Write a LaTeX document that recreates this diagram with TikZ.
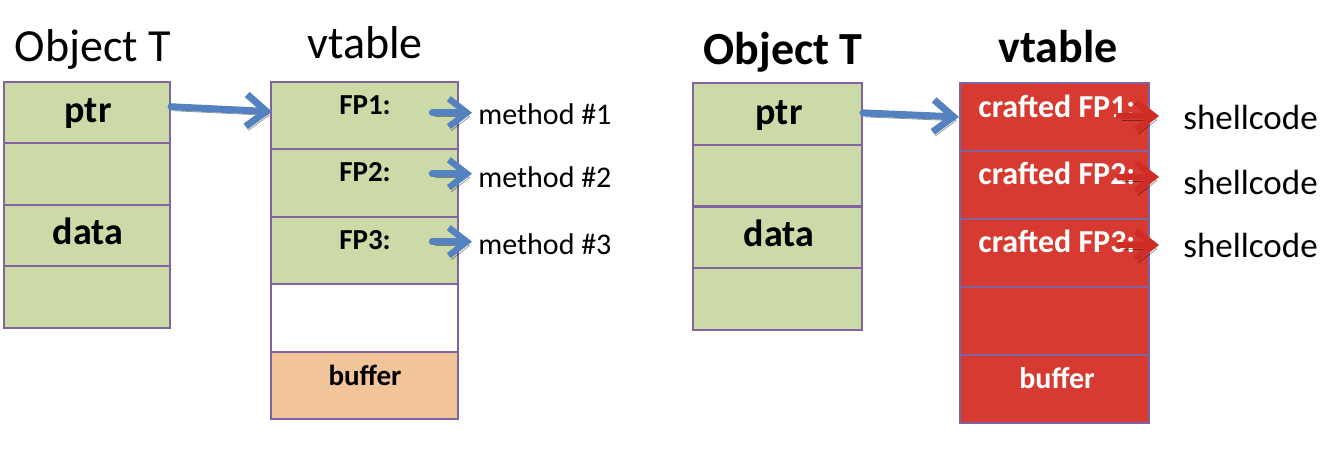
\documentclass[tikz,border=0pt]{standalone}
\usepackage{fontspec}
\setmainfont{Carlito}
\usetikzlibrary{arrows.meta,calc}
\definecolor{cellgreen}{RGB}{204,218,168}
\definecolor{cellorange}{RGB}{242,196,154}
\definecolor{cellred}{RGB}{214,58,48}
\definecolor{cellborder}{RGB}{128,100,162}
\definecolor{arrowblue}{RGB}{84,130,192}
\definecolor{arrowred}{RGB}{206,44,36}
\begin{document}
\begin{tikzpicture}[x=0.5pt,y=-0.5pt,
  cellbox/.style={draw=cellborder, line width=1pt, inner sep=0pt},
  objcell/.style={cellbox, fill=cellgreen, minimum width=83pt, minimum height=30.75pt},
  vtcell/.style={cellbox, minimum width=93.5pt, minimum height=33.7pt},
  robjcell/.style={cellbox, fill=cellgreen, minimum width=84.5pt, minimum height=30.875pt},
  rvtcell/.style={cellbox, fill=cellred, minimum width=94.5pt, minimum height=34pt},
  titlefont/.style={font=\fontsize{23}{27}\selectfont, anchor=base, inner sep=0pt},
  fieldtxt/.style={font=\fontsize{19}{23}\selectfont\bfseries, anchor=base, inner sep=0pt},
  fptxt/.style={font=\fontsize{14.5}{17}\selectfont\bfseries, anchor=base, inner sep=0pt},
  methtxt/.style={font=\fontsize{15}{18}\selectfont, anchor=base west, inner sep=0pt},
  crafttxt/.style={font=\fontsize{16}{19}\selectfont\bfseries, text=white, anchor=base west, inner sep=0pt},
  shelltxt/.style={font=\fontsize{17.5}{21}\selectfont, anchor=base west, inner sep=0pt},
  arrshadow/.style={preaction={draw=black, draw opacity=0.4, transform canvas={shift={(1.3pt,-2pt)}}}},
  bigarrow/.style={arrshadow, draw=arrowblue, line width=3.5pt, line cap=round, line join=round, -{Straight Barb[length=10pt,width=16pt]}},
  smallarrow/.style={arrshadow, draw=#1, line width=3.2pt, line cap=round, line join=round, -{Straight Barb[length=9pt,width=14pt]}}
]
\useasboundingbox (0,0) rectangle (1344,454);

% ---------- left panel ----------
\node[titlefont] (lot) at (93,62) {Object T};
\node[titlefont] (lvt) at (365,59) {vtable};

\node[objcell] (lo1) at (87,112.75) {};
\node[objcell] (lo2) at (87,174.25) {};
\node[objcell] (lo3) at (87,235.75) {};
\node[objcell] (lo4) at (87,297.25) {};
\node[fieldtxt] (lptr) at (88,123) {ptr};
\node[fieldtxt] (ldata) at (88,245) {data};

\node[vtcell, fill=cellgreen] (lv1) at (364.5,115.7) {};
\node[vtcell, fill=cellgreen] (lv2) at (364.5,183.1) {};
\node[vtcell, fill=cellgreen] (lv3) at (364.5,250.5) {};
\node[vtcell, fill=white] (lv4) at (364.5,317.9) {};
\node[vtcell, fill=cellorange] (lv5) at (364.5,385.3) {};

\node[fptxt] (fp1) at (365,115) {FP1:};
\node[fptxt] (fp2) at (365,182) {FP2:};
\node[fptxt] (fp3) at (365,250) {FP3:};
\node[fptxt] (lbuf) at (365,385) {buffer};

\node[methtxt] (m1) at (478,125) {method \#1};
\node[methtxt] (m2) at (478,188) {method \#2};
\node[methtxt] (m3) at (478,255) {method \#3};

\draw[bigarrow] ([yshift=3pt]lo1.east) -- ([xshift=1pt,yshift=2pt]lv1.west);
\draw[smallarrow=arrowblue] ([xshift=-23pt,yshift=1pt]m1.west) -- ([xshift=-3pt,yshift=1pt]m1.west);
\draw[smallarrow=arrowblue] ([xshift=-23pt,yshift=2pt]m2.west) -- ([xshift=-3pt,yshift=2pt]m2.west);
\draw[smallarrow=arrowblue] ([xshift=-23pt,yshift=1.5pt]m3.west) -- ([xshift=-3pt,yshift=1.5pt]m3.west);

% ---------- right panel ----------
\node[titlefont, font=\fontsize{23}{27}\selectfont\bfseries] (rot) at (783,65) {Object T};
\node[titlefont, font=\fontsize{23}{27}\selectfont\bfseries] (rvt) at (1058,63) {vtable};

\node[robjcell] (ro1) at (777.5,113.9) {};
\node[robjcell] (ro2) at (777.5,175.6) {};
\node[robjcell] (ro3) at (777.5,237.4) {};
\node[robjcell] (ro4) at (777.5,299.1) {};
\node[fieldtxt] (rptr) at (779,125) {ptr};
\node[fieldtxt] (rdata) at (779,247) {data};

\node[rvtcell] (rv1) at (1054.5,117) {};
\node[rvtcell] (rv2) at (1054.5,185) {};
\node[rvtcell] (rv3) at (1054.5,253) {};
\node[rvtcell] (rv4) at (1054.5,321) {};
\node[rvtcell] (rv5) at (1054.5,389) {};

\node[crafttxt] (cf1) at (978,118) {crafted FP1:};
\node[crafttxt] (cf2) at (978,185) {crafted FP2:};
\node[crafttxt] (cf3) at (978,253) {crafted FP3:};
\node[fptxt, text=white, font=\fontsize{15}{18}\selectfont\bfseries] (rbuf) at (1057,388) {buffer};

\node[shelltxt] (s1) at (1183,130) {shellcode};
\node[shelltxt] (s2) at (1183,195) {shellcode};
\node[shelltxt] (s3) at (1183,258) {shellcode};

\draw[bigarrow] ([yshift=0.5pt]ro1.east) -- ([xshift=0pt]rv1.west);
\draw[smallarrow=arrowred] ([xshift=-32pt,yshift=1pt]s1.west) -- ([xshift=-12pt,yshift=1pt]s1.west);
\draw[smallarrow=arrowred] ([xshift=-32pt,yshift=3pt]s2.west) -- ([xshift=-12pt,yshift=3pt]s2.west);
\draw[smallarrow=arrowred] ([xshift=-32pt,yshift=0.5pt]s3.west) -- ([xshift=-12pt,yshift=0.5pt]s3.west);
\end{tikzpicture}
\end{document}
